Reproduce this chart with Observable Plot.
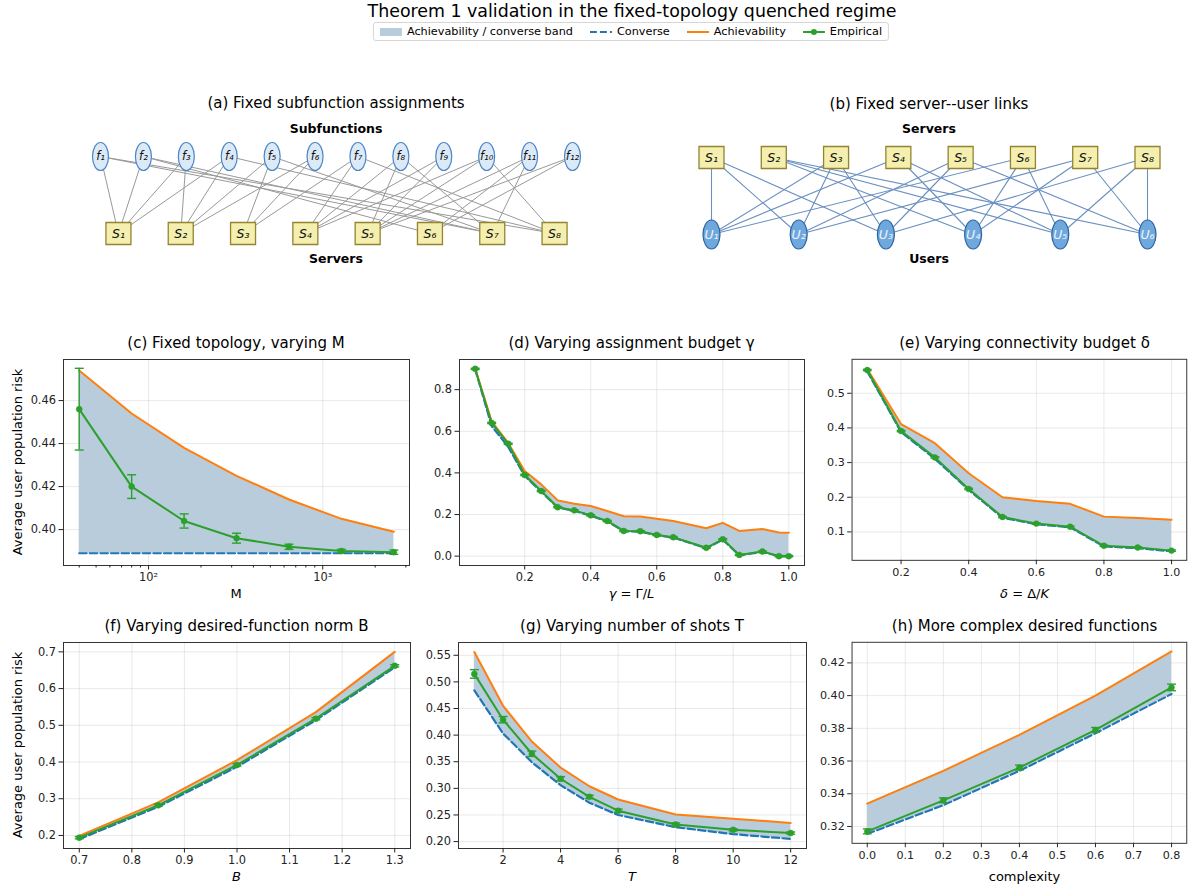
<!DOCTYPE html>
<html>
<head>
<meta charset="utf-8">
<script src="https://cdn.jsdelivr.net/npm/d3@7"></script>
<script src="https://cdn.jsdelivr.net/npm/@observablehq/plot@0.6"></script>
<style>
  html,body{margin:0;padding:0;background:#fff;}
  #fig{position:relative;width:1198px;height:886px;overflow:hidden;font-family:"DejaVu Sans",sans-serif;color:#000;background:#fff;}
  .lab{position:absolute;white-space:nowrap;transform:translate(-50%,-50%);line-height:1;}
  .ttl{font-size:15px;}
  .suptitle{font-size:17.4px;}
  .axl{font-size:13px;}
  .bold{font-size:12.5px;font-weight:bold;}
  .ylab{font-size:13px;transform:translate(-50%,-50%) rotate(-90deg);}
  .panel{position:absolute;}
  .panel svg{display:block;overflow:visible;}
</style>
</head>
<body>
<div id="fig"></div>
<script>
// ================= DATA =================
const figureTitle = "Theorem 1 validation in the fixed-topology quenched regime";
const legendLabels = ["Achievability / converse band", "Converse", "Achievability", "Empirical"];
const panelTitles = [
  "(a) Fixed subfunction assignments",
  "(b) Fixed server--user links",
  "(c) Fixed topology, varying M",
  "(d) Varying assignment budget γ",
  "(e) Varying connectivity budget δ",
  "(f) Varying desired-function norm B",
  "(g) Varying number of shots T",
  "(h) More complex desired functions"
];
const yAxisLabel = "Average user population risk";
const xAxisLabels = ["M", "<i>γ</i> = Γ/<i>L</i>", "<i>δ</i> = Δ/<i>K</i>", "<i>B</i>", "<i>T</i>", "complexity"];

// graph panels
const subfunctionLabels = ["f₁","f₂","f₃","f₄","f₅","f₆","f₇","f₈","f₉","f₁₀","f₁₁","f₁₂"];
const serverLabels = ["S₁","S₂","S₃","S₄","S₅","S₆","S₇","S₈"];
const userLabels = ["U₁","U₂","U₃","U₄","U₅","U₆"];
// [subfunction, server]
const assignmentEdges = [
  [1,1],[1,7],[1,8],[2,1],[2,6],[2,7],[3,1],[3,2],[4,1],[4,2],[4,8],
  [5,2],[5,3],[5,7],[6,2],[6,3],[7,3],[7,4],[7,8],[8,4],[8,5],[8,7],
  [9,4],[9,5],[10,4],[10,5],[10,8],[11,5],[11,6],[11,7],[12,5],[12,6]
];
// [server, user]
const linkEdges = [
  [1,1],[1,2],[1,3],[2,4],[2,5],[2,6],[3,1],[3,2],[3,3],[4,1],[4,4],[4,5],
  [5,2],[5,3],[5,6],[6,1],[6,4],[6,5],[7,2],[7,4],[7,6],[8,3],[8,5],[8,6]
];

// (c) varying M
const cM = [40, 80, 160, 320, 640, 1280, 2560];
const cAchievability = [0.474, 0.454, 0.438, 0.425, 0.414, 0.405, 0.399];
const cConverse = [0.389, 0.389, 0.389, 0.389, 0.389, 0.389, 0.389];
const cEmpirical = [0.456, 0.420, 0.404, 0.396, 0.392, 0.390, 0.3895];
const cError = [0.019, 0.0055, 0.0033, 0.0023, 0.0012, 0.0008, 0.0010];
const cXTicks = [100, 1000];
const cXMinor = [40,50,60,70,80,90,200,300,400,500,600,700,800,900,2000,3000];
const cYTicks = [0.40, 0.42, 0.44, 0.46];

// (d) varying gamma
const dGamma = [0.05,0.10,0.15,0.20,0.25,0.30,0.35,0.40,0.45,0.50,0.55,0.60,0.65,0.75,0.80,0.85,0.92,0.97,1.00];
const dAchievability = [0.900,0.648,0.544,0.409,0.345,0.268,0.252,0.241,0.217,0.192,0.190,0.180,0.169,0.134,0.160,0.121,0.130,0.114,0.112];
const dConverse = [0.898,0.625,0.525,0.385,0.310,0.233,0.218,0.194,0.167,0.120,0.118,0.100,0.089,0.038,0.079,0.004,0.020,0.000,0.000];
const dEmpirical = [0.900,0.640,0.540,0.390,0.313,0.235,0.220,0.196,0.169,0.121,0.120,0.102,0.091,0.040,0.081,0.006,0.022,0.000,0.000];
const dError = [0.003,0.003,0.003,0.003,0.003,0.003,0.003,0.003,0.003,0.003,0.003,0.003,0.003,0.003,0.003,0.003,0.003,0.003,0.003];
const dXTicks = [0.2, 0.4, 0.6, 0.8, 1.0];
const dYTicks = [0.0, 0.2, 0.4, 0.6, 0.8];

// (e) varying delta
const eDelta = [0.1,0.2,0.3,0.4,0.5,0.6,0.7,0.8,0.9,1.0];
const eAchievability = [0.570,0.411,0.356,0.269,0.200,0.189,0.181,0.144,0.140,0.135];
const eConverse = [0.563,0.388,0.311,0.221,0.141,0.122,0.113,0.058,0.053,0.044];
const eEmpirical = [0.567,0.391,0.315,0.224,0.143,0.124,0.115,0.060,0.055,0.046];
const eError = [0.002,0.002,0.002,0.002,0.002,0.002,0.002,0.002,0.002,0.002];
const eXTicks = [0.2, 0.4, 0.6, 0.8, 1.0];
const eYTicks = [0.1, 0.2, 0.3, 0.4, 0.5];

// (f) varying B
const fB = [0.70, 0.85, 1.00, 1.15, 1.30];
const fAchievability = [0.199, 0.290, 0.405, 0.536, 0.700];
const fConverse = [0.190, 0.278, 0.387, 0.514, 0.658];
const fEmpirical = [0.194, 0.282, 0.392, 0.518, 0.662];
const fError = [0.003, 0.003, 0.003, 0.003, 0.003];
const fXTicks = [0.7, 0.8, 0.9, 1.0, 1.1, 1.2, 1.3];
const fYTicks = [0.2, 0.3, 0.4, 0.5, 0.6, 0.7];

// (g) varying T
const gT = [1, 2, 3, 4, 5, 6, 8, 10, 12];
const gAchievability = [0.556,0.455,0.388,0.339,0.304,0.279,0.251,0.243,0.235];
const gConverse = [0.484,0.403,0.349,0.306,0.273,0.250,0.227,0.214,0.205];
const gEmpirical = [0.515,0.429,0.365,0.318,0.284,0.258,0.232,0.222,0.216];
const gError = [0.008,0.006,0.005,0.004,0.003,0.003,0.003,0.002,0.002];
const gXTicks = [2, 4, 6, 8, 10, 12];
const gYTicks = [0.20, 0.25, 0.30, 0.35, 0.40, 0.45, 0.50, 0.55];

// (h) complexity
const hComplexity = [0.0, 0.2, 0.4, 0.6, 0.8];
const hAchievability = [0.334, 0.354, 0.376, 0.400, 0.427];
const hConverse = [0.3155, 0.333, 0.354, 0.377, 0.401];
const hEmpirical = [0.317, 0.336, 0.356, 0.379, 0.405];
const hError = [0.0015, 0.0015, 0.0015, 0.0015, 0.002];
const hXTicks = [0.0, 0.1, 0.2, 0.3, 0.4, 0.5, 0.6, 0.7, 0.8];
const hYTicks = [0.32, 0.34, 0.36, 0.38, 0.40, 0.42];

// ================= STYLE =================
const BAND = "#b9ccdb", BLUE = "#1f77b4", ORANGE = "#ff7f0e", GREEN = "#2ca02c";
const fig = document.getElementById("fig");

function label(html, x, y, cls) {
  const d = document.createElement("div");
  d.className = "lab " + cls;
  d.innerHTML = html;
  d.style.left = x + "px";
  d.style.top = y + "px";
  fig.appendChild(d);
  return d;
}
function place(svg, left, top) {
  const w = document.createElement("div");
  w.className = "panel";
  w.style.left = left + "px";
  w.style.top = top + "px";
  w.appendChild(svg);
  fig.appendChild(w);
}
const ellipseSymbol = (rx, ry) => ({draw(ctx) {
  const k = 0.5522847498;
  ctx.moveTo(rx, 0);
  ctx.bezierCurveTo(rx, k*ry, k*rx, ry, 0, ry);
  ctx.bezierCurveTo(-k*rx, ry, -rx, k*ry, -rx, 0);
  ctx.bezierCurveTo(-rx, -k*ry, -k*rx, -ry, 0, -ry);
  ctx.bezierCurveTo(k*rx, -ry, rx, -k*ry, rx, 0);
  ctx.closePath();
}});
const boxSymbol = (hw, hh) => ({draw(ctx) {
  ctx.moveTo(-hw, -hh); ctx.lineTo(hw, -hh); ctx.lineTo(hw, hh); ctx.lineTo(-hw, hh); ctx.closePath();
}});
const capSymbol = {draw(ctx) { ctx.moveTo(-4.5, 0); ctx.lineTo(4.5, 0); }};

// ================= TITLE & LEGEND =================
label(figureTitle, 632, 12, "suptitle");
{
  const lg = document.createElement("div");
  lg.style.cssText = "position:absolute;left:631px;top:22px;transform:translateX(-50%);border:1px solid #d6d6d6;border-radius:3px;padding:0 6px;display:flex;align-items:center;gap:17px;font-size:11.25px;white-space:nowrap;background:#fff;height:19px;box-sizing:border-box;";
  const sw = [
    `<svg width="22" height="10"><rect x="0" y="1" width="22" height="8" fill="${BAND}"/></svg>`,
    `<svg width="22" height="10"><line x1="0" x2="22" y1="5" y2="5" stroke="${BLUE}" stroke-width="2.2" stroke-dasharray="7,3"/></svg>`,
    `<svg width="22" height="10"><line x1="0" x2="22" y1="5" y2="5" stroke="${ORANGE}" stroke-width="2"/></svg>`,
    `<svg width="22" height="10"><line x1="0" x2="22" y1="5" y2="5" stroke="${GREEN}" stroke-width="2"/><circle cx="11" cy="5" r="3" fill="${GREEN}"/></svg>`
  ];
  lg.innerHTML = legendLabels.map((t, i) =>
    `<span style="display:flex;align-items:center;gap:5px">${sw[i]}<span>${t}</span></span>`).join("");
  fig.appendChild(lg);
}

// ================= GRAPH PANELS =================
// (a) subfunction -> server assignments
{
  const W = 510, H = 115, mL = 20, mR = 18, mT = 16, mB = 22;
  const inset = 0.038; // servers drawn slightly inside the subfunction row
  const top = subfunctionLabels.map((lab, i) => ({lab, x: i / (subfunctionLabels.length - 1), y: 1}));
  const bot = serverLabels.map((lab, j) => ({lab, x: inset + (1 - 2*inset) * j / (serverLabels.length - 1), y: 0}));
  const edges = assignmentEdges.map(([f, s]) => ({x1: top[f-1].x, y1: top[f-1].y, x2: bot[s-1].x, y2: bot[s-1].y}));
  const svg = Plot.plot({
    width: W, height: H, marginLeft: mL, marginRight: mR, marginTop: mT, marginBottom: mB,
    x: {domain: [0, 1], axis: null}, y: {domain: [0, 1], axis: null},
    style: {fontFamily: "DejaVu Sans", background: "transparent", overflow: "visible"},
    marks: [
      Plot.link(edges, {x1: "x1", y1: "y1", x2: "x2", y2: "y2", stroke: "#999", strokeWidth: 1}),
      Plot.dot(top, {x: "x", y: "y", symbol: ellipseSymbol(8, 14), fill: "#dce9f6", stroke: "#4a86c8", strokeWidth: 1.2}),
      Plot.text(top, {x: "x", y: "y", text: "lab", fontStyle: "italic", fontSize: 11.5, fill: "#111"}),
      Plot.dot(bot, {x: "x", y: "y", symbol: boxSymbol(12.5, 11), fill: "#f4eeaf", stroke: "#948431", strokeWidth: 1.3}),
      Plot.text(bot, {x: "x", y: "y", text: "lab", fontStyle: "italic", fontSize: 12.5, fill: "#111"})
    ]
  });
  place(svg, 80, 140);
  label(panelTitles[0], 336, 103, "ttl");
  label("Subfunctions", 336, 129, "bold");
  label("Servers", 336, 259, "bold");
}
// (b) server -> user links
{
  const W = 480, H = 115, mL = 21, mR = 23, mT = 17, mB = 21;
  const top = serverLabels.map((lab, j) => ({lab, x: j / (serverLabels.length - 1), y: 1}));
  const bot = userLabels.map((lab, k) => ({lab, x: k / (userLabels.length - 1), y: 0}));
  const edges = linkEdges.map(([s, u]) => ({x1: top[s-1].x, y1: top[s-1].y, x2: bot[u-1].x, y2: bot[u-1].y}));
  const svg = Plot.plot({
    width: W, height: H, marginLeft: mL, marginRight: mR, marginTop: mT, marginBottom: mB,
    x: {domain: [0, 1], axis: null}, y: {domain: [0, 1], axis: null},
    style: {fontFamily: "DejaVu Sans", background: "transparent", overflow: "visible"},
    marks: [
      Plot.link(edges, {x1: "x1", y1: "y1", x2: "x2", y2: "y2", stroke: "#6a8fc0", strokeWidth: 1.1}),
      Plot.dot(top, {x: "x", y: "y", symbol: boxSymbol(12.5, 11), fill: "#f4eeaf", stroke: "#948431", strokeWidth: 1.3}),
      Plot.text(top, {x: "x", y: "y", text: "lab", fontStyle: "italic", fontSize: 12.5, fill: "#111"}),
      Plot.dot(bot, {x: "x", y: "y", symbol: ellipseSymbol(8.5, 14.5), fill: "#6fa8dc", stroke: "#2e64a3", strokeWidth: 1.2}),
      Plot.text(bot, {x: "x", y: "y", text: "lab", fontStyle: "italic", fontSize: 12.5, fill: "#eef4fb"})
    ]
  });
  place(svg, 690, 140);
  label(panelTitles[1], 929, 104, "ttl");
  label("Servers", 929, 129, "bold");
  label("Users", 929, 259, "bold");
}

// ================= METRIC PANELS =================
function metricPanel(p) {
  const rows = p.x.map((x, i) => ({x, ach: p.ach[i], conv: p.conv[i], emp: p.emp[i], err: p.err[i]}));
  const mL = 60, mR = 12, mT = 8, mB = 30;
  const W = p.fx2 - p.fx1 + mL + mR, H = p.fy2 - p.fy1 + mT + mB;
  const gridStyle = {stroke: "#b0b0b0", strokeOpacity: 0.35, strokeWidth: 0.8};
  const marks = [
    Plot.gridX({ticks: p.xTicks, ...gridStyle}),
    Plot.gridY({ticks: p.yTicks, ...gridStyle}),
    Plot.areaY(rows, {x: "x", y1: "conv", y2: "ach", fill: BAND}),
    Plot.lineY(rows, {x: "x", y: "conv", stroke: BLUE, strokeWidth: 2.2, strokeDasharray: "7.4,3.2"}),
    Plot.lineY(rows, {x: "x", y: "ach", stroke: ORANGE, strokeWidth: 2}),
    Plot.ruleX(rows, {x: "x", y1: d => d.emp - d.err, y2: d => d.emp + d.err, stroke: GREEN, strokeWidth: 1.4}),
    Plot.dot(rows, {x: "x", y: d => d.emp - d.err, symbol: capSymbol, fill: "none", stroke: GREEN, strokeWidth: 1.4}),
    Plot.dot(rows, {x: "x", y: d => d.emp + d.err, symbol: capSymbol, fill: "none", stroke: GREEN, strokeWidth: 1.4}),
    Plot.lineY(rows, {x: "x", y: "emp", stroke: GREEN, strokeWidth: 2}),
    Plot.dot(rows, {x: "x", y: "emp", r: 3, fill: GREEN, stroke: GREEN, strokeWidth: 0.5}),
    Plot.frame({stroke: "#333", strokeWidth: 1}),
    Plot.axisX({ticks: p.xTicks, tickFormat: p.xFmt, tickSize: 4.5, tickPadding: 3, label: null}),
    Plot.axisY({ticks: p.yTicks, tickFormat: p.yFmt, tickSize: 4.5, tickPadding: 3, label: null})
  ];
  if (p.xMinor) marks.push(Plot.axisX({ticks: p.xMinor, tickFormat: () => "", tickSize: 2.5, label: null}));
  const svg = Plot.plot({
    width: W, height: H, marginLeft: mL, marginRight: mR, marginTop: mT, marginBottom: mB,
    x: {type: p.xType || "linear", domain: p.xDomain},
    y: {domain: p.yDomain},
    style: {fontFamily: "DejaVu Sans", fontSize: "11.4px", color: "#222", background: "transparent", overflow: "visible"},
    marks
  });
  place(svg, p.fx1 - mL, p.fy1 - mT);
  const cx = (p.fx1 + p.fx2) / 2;
  label(p.title, cx, p.fy1 - 16, "ttl");
  label(p.xLabel, cx, p.fy2 + 28, "axl");
  if (p.yLabel) label(p.yLabel, 17, (p.fy1 + p.fy2) / 2, "ylab");
}

const f1 = d3.format(".1f"), f2 = d3.format(".2f");
const supDigits = {"2": "²", "3": "³"};

metricPanel({title: panelTitles[2], xLabel: xAxisLabels[0], yLabel: yAxisLabel,
  fx1: 63, fx2: 409, fy1: 359, fy2: 565,
  x: cM, ach: cAchievability, conv: cConverse, emp: cEmpirical, err: cError,
  xType: "log", xDomain: [32.5, 3148], yDomain: [0.3833, 0.4791],
  xTicks: cXTicks, xMinor: cXMinor, xFmt: d => "10" + supDigits[String(Math.round(Math.log10(d)))],
  yTicks: cYTicks, yFmt: f2});

metricPanel({title: panelTitles[3], xLabel: xAxisLabels[1],
  fx1: 459, fx2: 804, fy1: 359, fy2: 565,
  x: dGamma, ach: dAchievability, conv: dConverse, emp: dEmpirical, err: dError,
  xDomain: [0.0025, 1.0475], yDomain: [-0.045, 0.945],
  xTicks: dXTicks, xFmt: f1, yTicks: dYTicks, yFmt: f1});

metricPanel({title: panelTitles[4], xLabel: xAxisLabels[2],
  fx1: 853, fx2: 1196, fy1: 359, fy2: 565,
  x: eDelta, ach: eAchievability, conv: eConverse, emp: eEmpirical, err: eError,
  xDomain: [0.055, 1.045], yDomain: [0.018, 0.598],
  xTicks: eXTicks, xFmt: f1, yTicks: eYTicks, yFmt: f1});

metricPanel({title: panelTitles[5], xLabel: xAxisLabels[3], yLabel: yAxisLabel,
  fx1: 63, fx2: 410, fy1: 642, fy2: 848,
  x: fB, ach: fAchievability, conv: fConverse, emp: fEmpirical, err: fError,
  xDomain: [0.67, 1.33], yDomain: [0.1645, 0.7255],
  xTicks: fXTicks, xFmt: f1, yTicks: fYTicks, yFmt: f1});

metricPanel({title: panelTitles[6], xLabel: xAxisLabels[4],
  fx1: 458, fx2: 806, fy1: 642, fy2: 848,
  x: gT, ach: gAchievability, conv: gConverse, emp: gEmpirical, err: gError,
  xDomain: [0.45, 12.55], yDomain: [0.187, 0.574],
  xTicks: gXTicks, xFmt: d => String(d), yTicks: gYTicks, yFmt: f2});

metricPanel({title: panelTitles[7], xLabel: xAxisLabels[5],
  fx1: 853, fx2: 1196, fy1: 642, fy2: 848,
  x: hComplexity, ach: hAchievability, conv: hConverse, emp: hEmpirical, err: hError,
  xDomain: [-0.04, 0.84], yDomain: [0.3097, 0.4326],
  xTicks: hXTicks, xFmt: f1, yTicks: hYTicks, yFmt: f2});
</script>
</body>
</html>
